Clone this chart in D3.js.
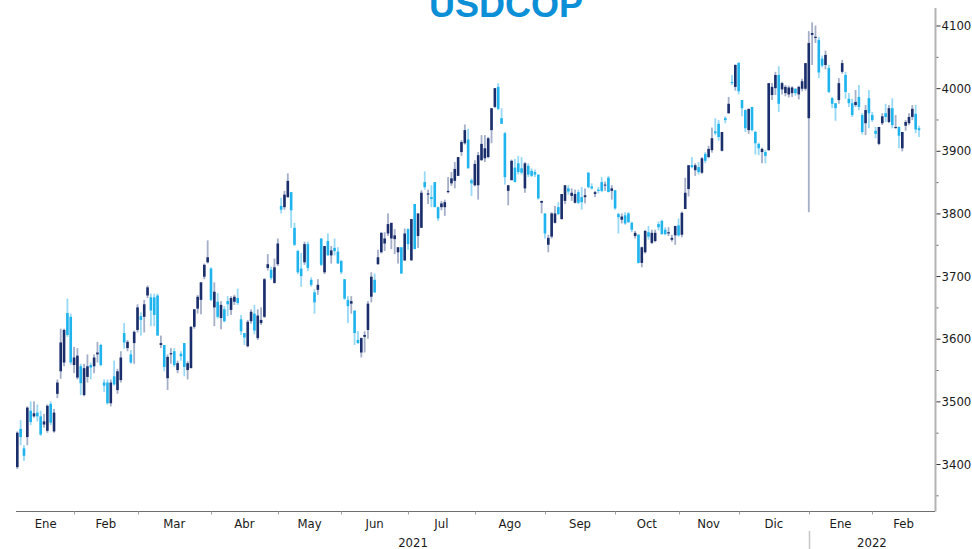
<!DOCTYPE html>
<html>
<head>
<meta charset="utf-8">
<script src="https://cdn.jsdelivr.net/npm/d3@7"></script>
<style>
  html, body { margin: 0; padding: 0; background: #fff; }
  svg { display: block; }
  .lbl { font-family: "DejaVu Sans Condensed", "DejaVu Sans", sans-serif; font-size: 13px; fill: #1a1a1a; }
</style>
</head>
<body>
<svg id="chart" width="972" height="549"></svg>
<script>
// month labels and index of the first candle of each month
const monthLabels = ["Ene","Feb","Mar","Abr","May","Jun","Jul","Ago","Sep","Oct","Nov","Dic","Ene","Feb"]
const monthStart = [0, 17, 36, 58, 78, 97, 117, 137, 158, 179, 198, 216, 237, 256]
const years = [{label: "2021", from: 0, to: 12}, {label: "2022", from: 12, to: 14}]
const yTicks = [3400, 3500, 3600, 3700, 3800, 3900, 4000, 4100]
const yMinor = [3350, 3450, 3550, 3650, 3750, 3850, 3950, 4050]

// daily OHLC, USDCOP
const open = [
  3395,3456,3425,3443,3485,3476,3482,3476,3463,3453, 3496,3452,3512,3548,3562,3641,3635,3558,3538,3556,
  3510,3539,3558,3556,3575,3590,3530,3530,3497,3540, 3518,3534,3609,3585,3575,3593,3614,3636,3635,3669,
  3666,3666,3669,3590,3590,3537,3575,3580,3550,3576, 3593,3550,3553,3619,3648,3662,3699,3722,3712,3650,
  3659,3633,3647,3660,3646,3659,3665,3631,3609,3588, 3628,3640,3601,3625,3635,3713,3710,3689,3719,3812,
  3810,3826,3834,3777,3740,3712,3722,3751,3694,3674, 3678,3760,3706,3756,3733,3745,3739,3724,3695,3662,
  3656,3645,3598,3578,3603,3614,3667,3694,3719,3738, 3752,3768,3760,3759,3738,3746,3725,3775,3725,3815,
  3764,3777,3850,3830,3826,3850,3810,3810,3810,3834, 3848,3852,3860,3898,3912,3918,3853,3845,3845,3885,
  3888,3890,3933,3970,4002,3952,3928,3836,3853,3873, 3880,3872,3840,3876,3868,3866,3862,3817,3800,3750,
  3763,3785,3810,3791,3820,3840,3828,3817,3834,3826, 3826,3865,3843,3831,3838,3850,3845,3857,3836,3837,
  3799,3790,3797,3800,3785,3764,3766,3721,3738,3770, 3753,3756,3783,3788,3774,3768,3758,3765,3781,3766,
  3807,3839,3877,3869,3874,3865,3895,3890,3901,3931, 3943,3900,3952,3960,4010,4002,4040,3981,3965,3933,
  3970,3930,3911,3898,3898,3901,3989,4000,4021,3998, 3992,3990,3992,3999,3990,3999,3999,3952,4085,4080,
  4077,4047,4037,4032,3984,3976,3981,4026,4021,3983, 3976,3973,3986,3957,3944,3984,3957,3932,3911,3944,
  3960,3946,3968,3937,3938,3904,3940,3944,3954,3959, 3936
]
const high = [
  3452,3470,3430,3492,3500,3500,3495,3485,3480,3495, 3500,3488,3535,3616,3616,3664,3640,3587,3585,3560,
  3560,3575,3562,3575,3595,3592,3535,3535,3535,3565, 3552,3580,3625,3598,3582,3613,3655,3642,3662,3685,
  3672,3672,3672,3605,3590,3575,3585,3585,3565,3580, 3593,3564,3620,3647,3670,3690,3720,3757,3714,3690,
  3673,3660,3652,3668,3668,3670,3680,3638,3609,3630, 3647,3654,3647,3650,3697,3735,3715,3728,3760,3825,
  3836,3864,3834,3785,3742,3737,3755,3755,3698,3679, 3695,3760,3748,3768,3748,3760,3746,3726,3695,3668,
  3668,3645,3612,3602,3612,3660,3706,3704,3742,3770, 3770,3800,3785,3775,3746,3746,3776,3776,3791,3815,
  3800,3837,3867,3838,3845,3850,3811,3820,3822,3858, 3866,3882,3890,3917,3942,3935,3856,3885,3898,3925,
  3925,3922,3968,4000,4008,3968,3930,3845,3886,3887, 3892,3890,3882,3880,3872,3870,3862,3820,3800,3766,
  3802,3812,3818,3831,3845,3845,3840,3838,3838,3842, 3840,3866,3848,3836,3842,3858,3851,3860,3845,3837,
  3801,3800,3802,3802,3787,3772,3767,3747,3774,3780, 3774,3774,3787,3790,3778,3778,3766,3780,3792,3803,
  3857,3877,3890,3880,3882,3890,3898,3908,3937,3952, 3949,3930,3955,3986,4021,4038,4042,3981,3966,3967,
  3970,3932,3913,3905,3901,4008,4008,4026,4035,4010, 4005,4004,4003,4000,4004,4015,4040,4091,4105,4100,
  4082,4052,4060,4037,3986,3976,4016,4045,4026,3992, 3983,3997,4005,3960,3973,3997,3962,3938,3938,3960,
  3975,3973,3984,3957,3939,3930,3949,3960,3973,3973, 3940
]
const low = [
  3392,3430,3405,3430,3462,3474,3468,3445,3458,3450, 3462,3450,3505,3536,3556,3603,3558,3545,3535,3510,
  3508,3530,3535,3545,3562,3556,3515,3495,3492,3525, 3512,3530,3584,3580,3560,3560,3610,3605,3610,3665,
  3620,3620,3605,3585,3548,3518,3560,3555,3545,3565, 3540,3535,3553,3616,3640,3639,3695,3720,3660,3620,
  3632,3615,3626,3636,3638,3654,3654,3606,3590,3586, 3624,3607,3598,3622,3633,3709,3694,3688,3716,3800,
  3806,3825,3777,3748,3703,3683,3718,3708,3683,3640, 3670,3716,3703,3733,3720,3733,3720,3703,3662,3625,
  3640,3590,3592,3570,3578,3600,3658,3673,3718,3736, 3740,3764,3743,3735,3720,3704,3724,3742,3725,3743,
  3745,3777,3838,3815,3810,3810,3788,3805,3796,3832, 3844,3840,3860,3892,3910,3872,3828,3843,3822,3884,
  3882,3888,3912,3968,3965,3943,3846,3813,3853,3850, 3862,3862,3833,3858,3858,3858,3822,3800,3760,3738,
  3760,3784,3797,3790,3815,3830,3820,3816,3815,3806, 3816,3840,3838,3826,3832,3834,3836,3834,3822,3806,
  3768,3784,3782,3785,3770,3760,3720,3714,3736,3758, 3751,3754,3773,3766,3765,3764,3755,3750,3763,3762,
  3807,3827,3872,3860,3862,3863,3880,3888,3897,3925, 3916,3899,3944,3959,4005,3996,3990,3955,3930,3927,
  3931,3894,3893,3880,3880,3900,3981,3989,3962,3990, 3987,3985,3986,3988,3982,3995,3996,3802,4037,4072,
  4016,4033,4030,3992,3968,3948,3975,4023,3983,3970, 3954,3970,3965,3926,3925,3936,3946,3920,3909,3941,
  3946,3944,3936,3935,3904,3899,3932,3941,3949,3928, 3922
]
const close = [
  3450,3443,3413,3490,3467,3481,3476,3447,3468,3493, 3466,3482,3530,3594,3614,3606,3562,3570,3573,3529,
  3553,3556,3554,3570,3578,3558,3525,3497,3530,3527, 3548,3570,3594,3595,3562,3611,3650,3630,3655,3682,
  3645,3638,3605,3593,3555,3571,3577,3558,3561,3572, 3555,3561,3619,3647,3667,3690,3718,3730,3662,3675,
  3635,3654,3628,3655,3665,3667,3657,3612,3602,3627, 3643,3613,3637,3630,3695,3719,3697,3714,3752,3806,
  3830,3852,3805,3750,3706,3700,3751,3713,3686,3658, 3686,3718,3748,3733,3741,3740,3720,3706,3664,3652,
  3660,3609,3593,3601,3606,3656,3699,3674,3730,3769, 3760,3783,3785,3765,3746,3704,3768,3751,3791,3743,
  3800,3833,3842,3832,3823,3810,3792,3816,3818,3836, 3856,3871,3890,3914,3933,3872,3848,3879,3893,3911,
  3904,3920,3968,4000,3967,3943,3858,3845,3884,3850, 3866,3865,3880,3862,3860,3862,3824,3820,3768,3761,
  3800,3800,3799,3831,3845,3835,3833,3831,3817,3818, 3829,3842,3840,3834,3836,3836,3846,3834,3840,3808,
  3794,3795,3784,3786,3774,3769,3721,3746,3772,3763, 3769,3769,3778,3767,3767,3770,3761,3780,3765,3801,
  3833,3877,3874,3877,3866,3888,3884,3903,3920,3928, 3922,3930,3949,3975,4008,4037,3995,3968,3936,3967,
  3933,3912,3904,3903,3892,4008,4002,4021,3975,4008, 4002,4001,4001,3992,4002,4011,4040,4072,4088,4082,
  4025,4036,4053,3994,3975,3968,4008,4040,3994,3976, 3957,3978,3970,3930,3965,3960,3949,3927,3938,3955,
  3954,3968,3941,3938,3924,3930,3946,3954,3967,3934, 3933
]

const N = close.length
const plotRight = 935
const axisY = 511.5

const candles = d3.range(N).map(i => ({i: i, o: open[i], h: high[i], l: low[i], c: close[i]}))

const svg = d3.select("#chart")

const x = d3.scaleLinear().domain([0, N - 1]).range([17.3, 919])
const y = d3.scaleLinear().domain([3400, 4100]).range([464, 25.5])

/*************** title *********************/
svg.append("text")
  .attr("x", 506)
  .attr("y", 17)
  .attr("text-anchor", "middle")
  .style("font-family", "'Liberation Sans', Arial, sans-serif")
  .style("font-weight", "bold")
  .style("font-size", "36px")
  .style("fill", "#0b8fd7")
  .text("USDCOP")

/*************** candles *********************/
const isUp = d => d.c >= d.o

svg.append("g").selectAll("rect")
  .data(candles)
  .join("rect")
    .attr("x", d => x(d.i) - 0.9)
    .attr("width", 1.8)
    .attr("y", d => y(d.h))
    .attr("height", d => Math.max(1, y(d.l) - y(d.h)))
    .attr("fill", d => isUp(d) ? "#a6afc8" : "#98d9f5")

svg.append("g").selectAll("rect")
  .data(candles)
  .join("rect")
    .attr("x", d => x(d.i) - 1.3)
    .attr("width", 2.6)
    .attr("y", d => y(Math.max(d.o, d.c)))
    .attr("height", d => Math.max(1, Math.abs(y(d.o) - y(d.c))))
    .attr("fill", d => isUp(d) ? "#1b2e6c" : "#1fb4ee")

/*************** right axis *********************/
svg.append("line")
  .attr("x1", plotRight + 0.5).attr("x2", plotRight + 0.5)
  .attr("y1", 8).attr("y2", axisY)
  .attr("stroke", "#b3b3b3")
  .attr("stroke-width", 2)

const yAxis = svg.append("g")
  .attr("transform", `translate(${plotRight + 1.5},0)`)
  .call(d3.axisRight(y).tickValues(yTicks).tickSize(4).tickPadding(1).tickFormat(d3.format("d")))
yAxis.select(".domain").remove()
yAxis.selectAll("line").attr("stroke", "#333")
yAxis.selectAll("text").attr("class", "lbl").attr("fill", null)

const yMinorAxis = svg.append("g")
  .attr("transform", `translate(${plotRight + 1.5},0)`)
  .call(d3.axisRight(y).tickValues(yMinor).tickSize(2).tickFormat(""))
yMinorAxis.select(".domain").remove()
yMinorAxis.selectAll("line").attr("stroke", "#666")

/*************** bottom axis *********************/
svg.append("line")
  .attr("x1", 16).attr("x2", plotRight)
  .attr("y1", axisY).attr("y2", axisY)
  .attr("stroke", "#6e6e6e")
  .attr("stroke-width", 1)

svg.append("g").selectAll("line")
  .data(monthStart.slice(1))
  .join("line")
    .attr("x1", d => Math.round(x(d)) + 0.5)
    .attr("x2", d => Math.round(x(d)) + 0.5)
    .attr("y1", axisY)
    .attr("y2", axisY + 3)
    .attr("stroke", "#a0a0a0")

const monthEdge = k => k < monthStart.length ? x(monthStart[k]) : plotRight

svg.append("g").selectAll("text")
  .data(monthLabels)
  .join("text")
    .attr("class", "lbl")
    .attr("x", (d, k) => (monthEdge(k) + monthEdge(k + 1)) / 2)
    .attr("y", 528)
    .attr("text-anchor", "middle")
    .text(d => d)

svg.append("g").selectAll("text")
  .data(years)
  .join("text")
    .attr("class", "lbl")
    .attr("x", d => (monthEdge(d.from) + monthEdge(d.to)) / 2)
    .attr("y", 547)
    .attr("text-anchor", "middle")
    .text(d => d.label)

// year separator under the axis
svg.append("line")
  .attr("x1", Math.round(x(monthStart[12])) + 0.5)
  .attr("x2", Math.round(x(monthStart[12])) + 0.5)
  .attr("y1", 531).attr("y2", 549)
  .attr("stroke", "#c4c4c4")
  .attr("stroke-width", 1.5)
</script>
</body>
</html>
